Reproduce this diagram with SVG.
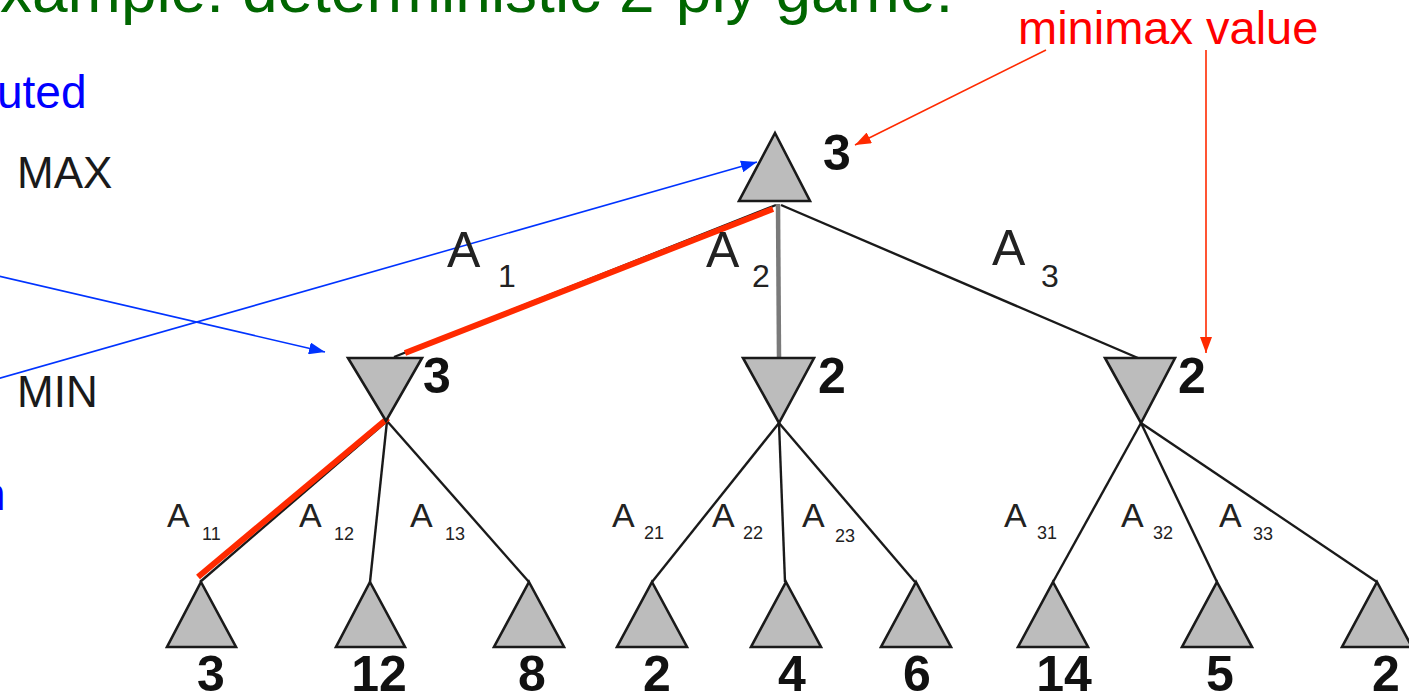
<svg xmlns="http://www.w3.org/2000/svg" width="1409" height="692" viewBox="0 0 1409 692">
<style>
.tri{fill:#bcbcbc;stroke:#1a1a1a;stroke-width:2.6;stroke-linejoin:miter}
.edge{stroke:#1a1a1a;stroke-width:2.4;fill:none}
.best{stroke:#ff2a00;stroke-width:6;fill:none}
.val{font-family:"Liberation Sans",Arial,sans-serif;font-weight:bold;font-size:50px;fill:#111}
.lbl{font-family:"Liberation Sans",Arial,sans-serif;fill:#222}
.big{font-size:50px}
.sub{font-size:32px}
.sm{font-size:34px}
.smsub{font-size:18px}
.side{font-family:"Liberation Sans",Arial,sans-serif;font-size:44px;fill:#1a1a1a}
.blue{stroke:#0033ff;stroke-width:1.6;fill:none}
.red{stroke:#ff2a00;stroke-width:1.6;fill:none}
</style>
<defs>
<marker id="ab" viewBox="0 0 16 12" refX="16" refY="6" markerWidth="16" markerHeight="12" markerUnits="userSpaceOnUse" orient="auto"><path d="M0,0 L16,6 L0,12 z" fill="#0033ff"/></marker>
<marker id="ar" viewBox="0 0 16 12" refX="16" refY="6" markerWidth="16" markerHeight="12" markerUnits="userSpaceOnUse" orient="auto"><path d="M0,0 L16,6 L0,12 z" fill="#ff2a00"/></marker>
</defs>
<rect width="1409" height="692" fill="#ffffff"/>
<text x="0" y="12" font-family="'Liberation Sans',Arial,sans-serif" font-size="64" fill="#006600">xample: deterministic 2-ply game:</text>
<text x="-3" y="108" font-family="'Liberation Sans',Arial,sans-serif" font-size="46" fill="#0000ff">uted</text>
<text x="-20" y="510" font-family="'Liberation Sans',Arial,sans-serif" font-size="46" fill="#0000ff">n</text>
<text x="1018" y="44" font-family="'Liberation Sans',Arial,sans-serif" font-size="47" fill="#ff0000">minimax value</text>
<text class="side" x="17" y="188">MAX</text>
<text class="side" x="17" y="407">MIN</text>
<g id="connectors">
<line class="edge" x1="776" y1="205" x2="394" y2="357"/>
<line x1="778" y1="204" x2="779" y2="358" stroke="#7a7a7a" stroke-width="4.5"/>
<line class="edge" x1="781" y1="205" x2="1138" y2="358"/>
<line class="edge" x1="387" y1="421" x2="200" y2="582"/>
<line class="edge" x1="387" y1="421" x2="370" y2="582"/>
<line class="edge" x1="387" y1="421" x2="529" y2="582"/>
<line class="edge" x1="779" y1="423" x2="652" y2="582"/>
<line class="edge" x1="779" y1="423" x2="785" y2="582"/>
<line class="edge" x1="779" y1="423" x2="915" y2="582"/>
<line class="edge" x1="1141" y1="423" x2="1053" y2="582"/>
<line class="edge" x1="1141" y1="423" x2="1217" y2="582"/>
<line class="edge" x1="1141" y1="423" x2="1377" y2="582"/>
<line class="best" x1="773" y1="209" x2="405" y2="353"/>
<line class="best" x1="388" y1="418" x2="198" y2="577"/>
<line class="blue" x1="-10" y1="274" x2="325" y2="352" marker-end="url(#ab)"/>
<line class="blue" x1="-10" y1="381" x2="757" y2="162" marker-end="url(#ab)"/>
<line class="red" x1="1046" y1="50" x2="855" y2="145" marker-end="url(#ar)"/>
<line class="red" x1="1206" y1="50" x2="1206" y2="353" marker-end="url(#ar)"/>
</g>
<g id="edge-labels">
<text class="lbl big" x="447" y="267">A</text><text class="lbl sub" x="498" y="287">1</text>
<text class="lbl big" x="706" y="267">A</text><text class="lbl sub" x="752" y="287">2</text>
<text class="lbl big" x="992" y="265">A</text><text class="lbl sub" x="1041" y="287">3</text>
<text class="lbl sm" x="167" y="527">A</text><text class="lbl smsub" x="202" y="540">11</text>
<text class="lbl sm" x="299" y="527">A</text><text class="lbl smsub" x="334" y="540">12</text>
<text class="lbl sm" x="410" y="527">A</text><text class="lbl smsub" x="445" y="540">13</text>
<text class="lbl sm" x="612" y="527">A</text><text class="lbl smsub" x="644" y="539">21</text>
<text class="lbl sm" x="712" y="527">A</text><text class="lbl smsub" x="743" y="539">22</text>
<text class="lbl sm" x="802" y="527">A</text><text class="lbl smsub" x="835" y="542">23</text>
<text class="lbl sm" x="1004" y="527">A</text><text class="lbl smsub" x="1037" y="539">31</text>
<text class="lbl sm" x="1121" y="527">A</text><text class="lbl smsub" x="1153" y="539">32</text>
<text class="lbl sm" x="1219" y="527">A</text><text class="lbl smsub" x="1253" y="540">33</text>
</g>
<g id="root"><polygon class="tri" points="775,133 810,201 739,201"/><text class="val" x="823" y="170">3</text></g>
<g id="min1"><polygon class="tri" points="348,358 422,358 386,421"/><text class="val" x="423" y="393">3</text></g>
<g id="min2"><polygon class="tri" points="743,358 814,358 779,423"/><text class="val" x="818" y="393">2</text></g>
<g id="min3"><polygon class="tri" points="1105,358 1175,358 1141,423"/><text class="val" x="1178" y="393">2</text></g>
<g id="leaf1"><polygon class="tri" points="201,582 236,647 167,647"/><text class="val" x="211" y="691" text-anchor="middle">3</text></g>
<g id="leaf2"><polygon class="tri" points="370,582 405,647 336,647"/><text class="val" x="379" y="691" text-anchor="middle">12</text></g>
<g id="leaf3"><polygon class="tri" points="529,582 564,647 494,647"/><text class="val" x="532" y="691" text-anchor="middle">8</text></g>
<g id="leaf4"><polygon class="tri" points="652,582 687,647 617,647"/><text class="val" x="657" y="691" text-anchor="middle">2</text></g>
<g id="leaf5"><polygon class="tri" points="786,582 821,647 751,647"/><text class="val" x="792" y="691" text-anchor="middle">4</text></g>
<g id="leaf6"><polygon class="tri" points="916,582 951,647 881,647"/><text class="val" x="917" y="691" text-anchor="middle">6</text></g>
<g id="leaf7"><polygon class="tri" points="1053,582 1088,647 1018,647"/><text class="val" x="1064" y="691" text-anchor="middle">14</text></g>
<g id="leaf8"><polygon class="tri" points="1217,582 1252,647 1182,647"/><text class="val" x="1220" y="691" text-anchor="middle">5</text></g>
<g id="leaf9"><polygon class="tri" points="1377,582 1412,647 1342,647"/><text class="val" x="1386" y="691" text-anchor="middle">2</text></g>
</svg>
